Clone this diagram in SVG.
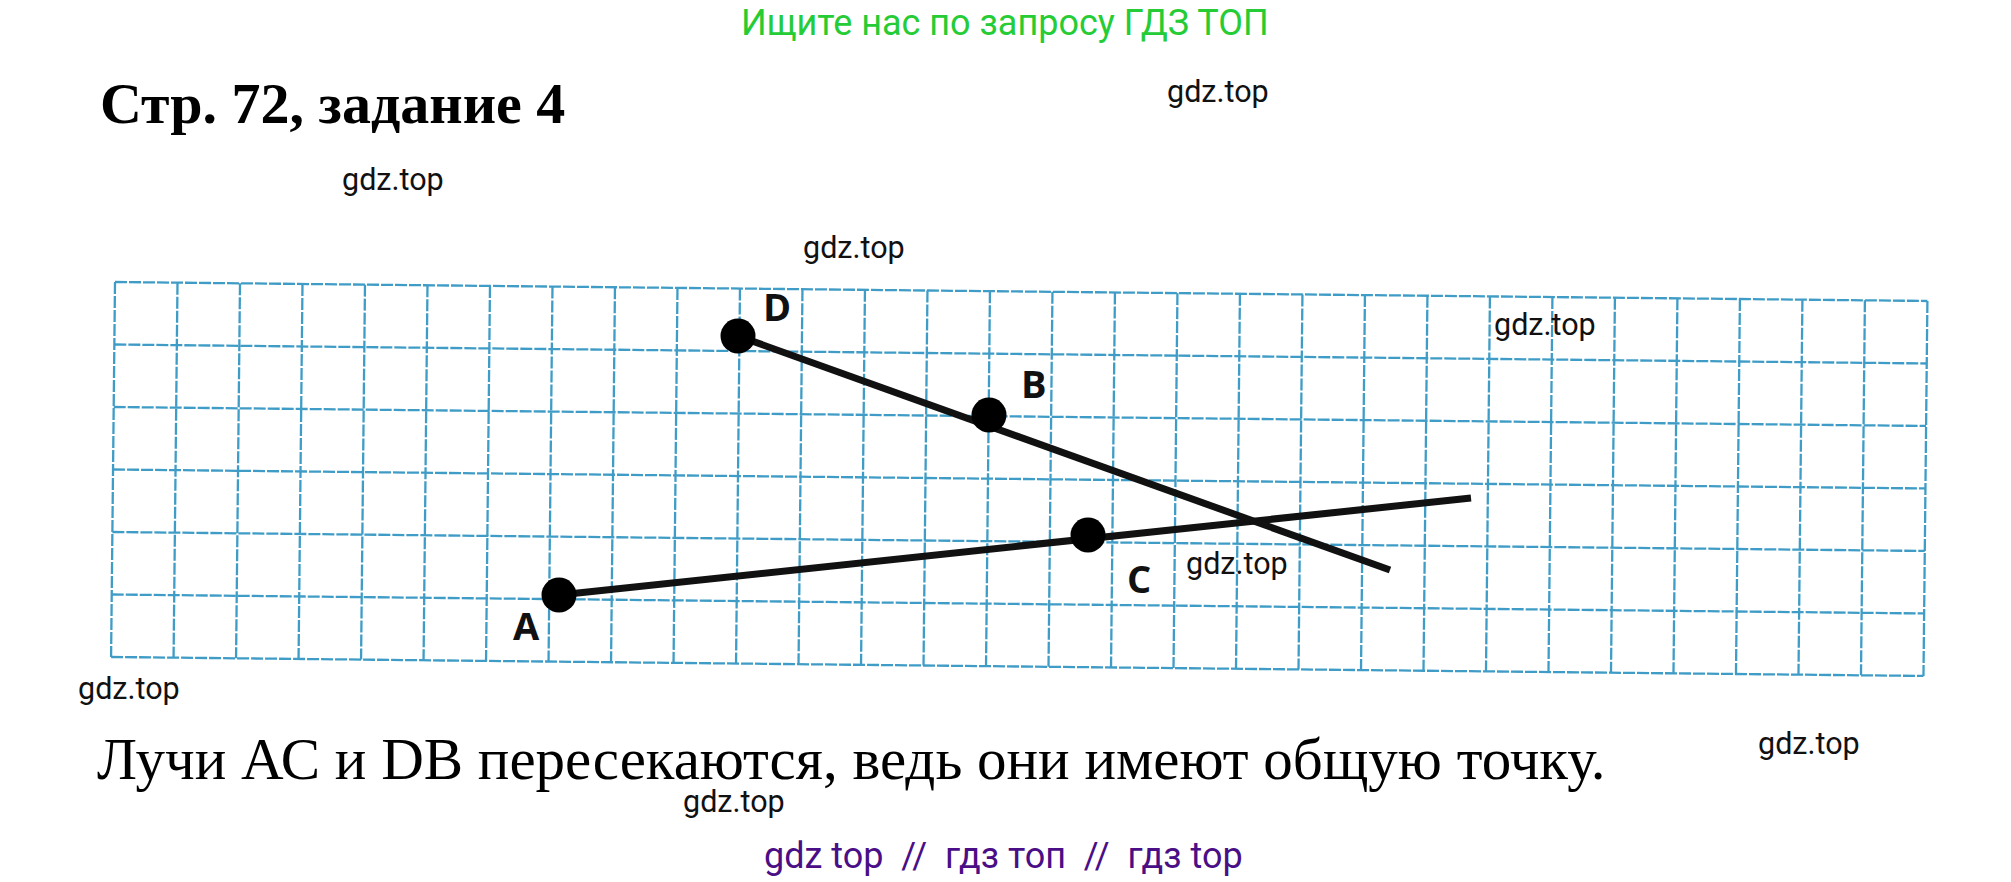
<svg xmlns="http://www.w3.org/2000/svg" width="2011" height="882" viewBox="0 0 2011 882">
<style>
.wm{font-family:Roboto,"Liberation Sans",sans-serif;font-size:30.5px;fill:#111}
.lbl{font-family:"Open Sans","Liberation Sans",sans-serif;font-weight:bold;font-size:38px;fill:#111}
.grid{fill:none;stroke:#3f9cc6;stroke-width:2.3;stroke-dasharray:12 2}
.ray{stroke:#111;stroke-width:7;stroke-linecap:butt;fill:none}
.pt{fill:#000}
</style>
<rect width="2011" height="882" fill="#fff"/>
<g id="grid" transform="rotate(0.6 115 282)">
<path class="grid" d="M115 282V657M177.5 282V657M240 282V657M302.5 282V657M365 282V657M427.5 282V657M490 282V657M552.5 282V657M615 282V657M677.5 282V657M740 282V657M802.5 282V657M865 282V657M927.5 282V657M990 282V657M1052.5 282V657M1115 282V657M1177.5 282V657M1240 282V657M1302.5 282V657M1365 282V657M1427.5 282V657M1490 282V657M1552.5 282V657M1615 282V657M1677.5 282V657M1740 282V657M1802.5 282V657M1865 282V657M1927.5 282V657"/>
<path class="grid" d="M115 282H1927.5M115 344.5H1927.5M115 407H1927.5M115 469.5H1927.5M115 532H1927.5M115 594.5H1927.5M115 657H1927.5"/>
</g>
<g id="connectors">
<line class="ray" x1="559" y1="595" x2="1471" y2="498"/>
<line class="ray" x1="738" y1="336" x2="1390" y2="570"/>
</g>
<g id="pointA"><circle class="pt" cx="559" cy="595" r="17.5"/><text class="lbl" x="513" y="640">A</text></g>
<g id="pointB"><circle class="pt" cx="989" cy="415" r="17.5"/><text class="lbl" x="1021" y="398">B</text></g>
<g id="pointC"><circle class="pt" cx="1088" cy="535" r="17.5"/><text class="lbl" x="1127" y="593">C</text></g>
<g id="pointD"><circle class="pt" cx="738" cy="336" r="17.5"/><text class="lbl" x="763" y="321">D</text></g>
<g id="texts">
<text x="741" y="35" style="font-family:Roboto,'Liberation Sans',sans-serif;font-size:36px;fill:#25cc35">Ищите нас по запросу ГДЗ ТОП</text>
<text x="100" y="123" style="font-family:'Liberation Serif',serif;font-weight:bold;font-size:58px;fill:#000">Стр. 72, задание 4</text>
<text x="97" y="779" style="font-family:'Liberation Serif',serif;font-size:59px;fill:#000">Лучи АС и DB пересекаются, ведь они имеют общую точку.</text>
<text x="764" y="868" style="font-family:Roboto,'Liberation Sans',sans-serif;font-size:36px;fill:#4a0e86;white-space:pre">gdz top  //  гдз топ  //  гдз top</text>
</g>
<g id="watermarks">
<text class="wm" x="1167" y="102">gdz.top</text>
<text class="wm" x="342" y="190">gdz.top</text>
<text class="wm" x="803" y="258">gdz.top</text>
<text class="wm" x="1494" y="335">gdz.top</text>
<text class="wm" x="1186" y="574">gdz.top</text>
<text class="wm" x="78" y="699">gdz.top</text>
<text class="wm" x="1758" y="754">gdz.top</text>
<text class="wm" x="683" y="812">gdz.top</text>
</g>
</svg>
